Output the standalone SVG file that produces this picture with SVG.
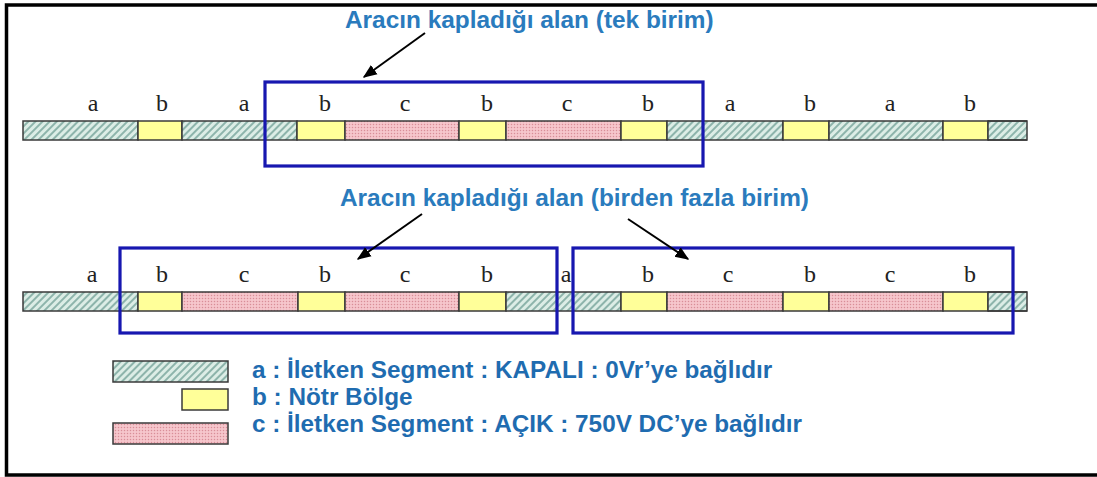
<svg xmlns="http://www.w3.org/2000/svg" width="1097" height="477" viewBox="0 0 1097 477">
  <defs>
    <!-- a: closed conductor segment, diagonal hatch -->
    <pattern id="hatch" patternUnits="userSpaceOnUse" width="5" height="5" patternTransform="rotate(45)">
      <rect width="5" height="5" fill="#dcede6"/>
      <line x1="1" y1="0" x2="1" y2="5" stroke="#73a198" stroke-width="1.5"/>
    </pattern>
    <!-- c: open conductor segment, pink dotted -->
    <pattern id="dots" patternUnits="userSpaceOnUse" width="3" height="3">
      <rect width="3" height="3" fill="#f6c6cc"/>
      <circle cx="1.5" cy="1.5" r="0.75" fill="#d98e98"/>
    </pattern>
    <marker id="arrow" viewBox="0 0 10 10" refX="9" refY="5" markerWidth="7" markerHeight="7" orient="auto-start-reverse" markerUnits="strokeWidth">
      <path d="M0,1 L10,5 L0,9 z" fill="#000"/>
    </marker>
    <style>
      .a { fill: url(#hatch); stroke: #3a3a3a; stroke-width: 1.5; }
      .b { fill: #ffff99; stroke: #3a3a3a; stroke-width: 1.5; }
      .c { fill: url(#dots); stroke: #3a3a3a; stroke-width: 1.5; }
      .lbl { font-family: "Liberation Serif", "Times New Roman", serif; font-size: 24px; fill: #222; text-anchor: middle; }
      .title { font-family: "Liberation Sans", Arial, sans-serif; font-weight: bold; font-size: 24.4px; fill: #2a7bbd; }
      .legend { font-family: "Liberation Sans", Arial, sans-serif; font-weight: bold; font-size: 24.3px; fill: #1f6cb0; }
      .box { fill: none; stroke: #1717b0; stroke-width: 3.2; }
      .arr { stroke: #000; stroke-width: 2; fill: none; marker-end: url(#arrow); }
    </style>
  </defs>

  <rect x="0" y="0" width="1097" height="477" fill="#ffffff"/>
  <!-- frame -->
  <rect x="6.5" y="5" width="1100" height="470" fill="none" stroke="#000" stroke-width="3.5"/>

  <!-- track with a single vehicle unit -->
  <g id="track-single">
    <rect class="a" x="23" y="121" width="115" height="19"/>
    <rect class="b" x="138" y="121" width="44" height="19"/>
    <rect class="a" x="182" y="121" width="115" height="19"/>
    <rect class="b" x="297" y="121" width="48" height="19"/>
    <rect class="c" x="345" y="121" width="114" height="19"/>
    <rect class="b" x="459" y="121" width="47" height="19"/>
    <rect class="c" x="506" y="121" width="115" height="19"/>
    <rect class="b" x="621" y="121" width="46" height="19"/>
    <rect class="a" x="667" y="121" width="116" height="19"/>
    <rect class="b" x="783" y="121" width="46" height="19"/>
    <rect class="a" x="829" y="121" width="114" height="19"/>
    <rect class="b" x="943" y="121" width="45" height="19"/>
    <rect class="a" x="988" y="121" width="39" height="19" stroke="none"/>
    <line x1="988" y1="121" x2="1027" y2="121" stroke="#3a3a3a" stroke-width="1.5"/>
    <line x1="988" y1="140" x2="1027" y2="140" stroke="#3a3a3a" stroke-width="1.5"/>
    <text class="lbl" x="93" y="111">a</text>
    <text class="lbl" x="162" y="111">b</text>
    <text class="lbl" x="244" y="111">a</text>
    <text class="lbl" x="325" y="111">b</text>
    <text class="lbl" x="405" y="111">c</text>
    <text class="lbl" x="487" y="111">b</text>
    <text class="lbl" x="567" y="111">c</text>
    <text class="lbl" x="648" y="111">b</text>
    <text class="lbl" x="730" y="111">a</text>
    <text class="lbl" x="810" y="111">b</text>
    <text class="lbl" x="890" y="111">a</text>
    <text class="lbl" x="970" y="111">b</text>
  </g>

  <!-- track with several vehicle units -->
  <g id="track-multi">
    <rect class="a" x="23" y="292" width="115" height="19"/>
    <rect class="b" x="138" y="292" width="44" height="19"/>
    <rect class="c" x="182" y="292" width="116" height="19"/>
    <rect class="b" x="298" y="292" width="47" height="19"/>
    <rect class="c" x="345" y="292" width="114" height="19"/>
    <rect class="b" x="459" y="292" width="47" height="19"/>
    <rect class="a" x="506" y="292" width="115" height="19"/>
    <rect class="b" x="621" y="292" width="46" height="19"/>
    <rect class="c" x="667" y="292" width="116" height="19"/>
    <rect class="b" x="783" y="292" width="46" height="19"/>
    <rect class="c" x="829" y="292" width="114" height="19"/>
    <rect class="b" x="943" y="292" width="45" height="19"/>
    <rect class="a" x="988" y="292" width="39" height="19" stroke="none"/>
    <line x1="988" y1="292" x2="1027" y2="292" stroke="#3a3a3a" stroke-width="1.5"/>
    <line x1="988" y1="311" x2="1027" y2="311" stroke="#3a3a3a" stroke-width="1.5"/>
    <text class="lbl" x="92" y="282">a</text>
    <text class="lbl" x="162" y="282">b</text>
    <text class="lbl" x="244" y="282">c</text>
    <text class="lbl" x="325" y="282">b</text>
    <text class="lbl" x="405" y="282">c</text>
    <text class="lbl" x="487" y="282">b</text>
    <text class="lbl" x="566" y="282">a</text>
    <text class="lbl" x="648" y="282">b</text>
    <text class="lbl" x="728" y="282">c</text>
    <text class="lbl" x="810" y="282">b</text>
    <text class="lbl" x="890" y="282">c</text>
    <text class="lbl" x="970" y="282">b</text>
  </g>

  <!-- vehicle footprint frames -->
  <g id="footprint-single">
    <rect class="box" x="265" y="82" width="438" height="84"/>
  </g>
  <g id="footprint-multi-1">
    <rect class="box" x="120" y="248" width="437" height="85"/>
  </g>
  <g id="footprint-multi-2">
    <rect class="box" x="573" y="248" width="440" height="85"/>
  </g>

  <!-- captions -->
  <g id="caption-single">
    <text class="title" x="345" y="28">Aracın kapladığı alan (tek birim)</text>
  </g>
  <g id="caption-multi">
    <text class="title" x="340" y="206">Aracın kapladığı alan (birden fazla birim)</text>
  </g>

  <!-- pointers from captions to frames -->
  <g id="connectors">
    <line class="arr" x1="425" y1="33" x2="364" y2="77"/>
    <line class="arr" x1="422" y1="214" x2="358" y2="259"/>
    <line class="arr" x1="628" y1="219" x2="688" y2="259"/>
  </g>

  <!-- key -->
  <g id="legend">
    <rect class="a" x="113" y="361" width="115" height="21"/>
    <rect class="b" x="182" y="389" width="46" height="21"/>
    <rect class="c" x="113" y="423" width="115" height="21"/>
    <text class="legend" x="252" y="378">a : İletken Segment : KAPALI : 0Vr’ye bağlıdır</text>
    <text class="legend" x="252" y="405">b : Nötr Bölge</text>
    <text class="legend" x="252" y="432">c : İletken Segment : AÇIK : 750V DC’ye bağlıdır</text>
  </g>
</svg>
